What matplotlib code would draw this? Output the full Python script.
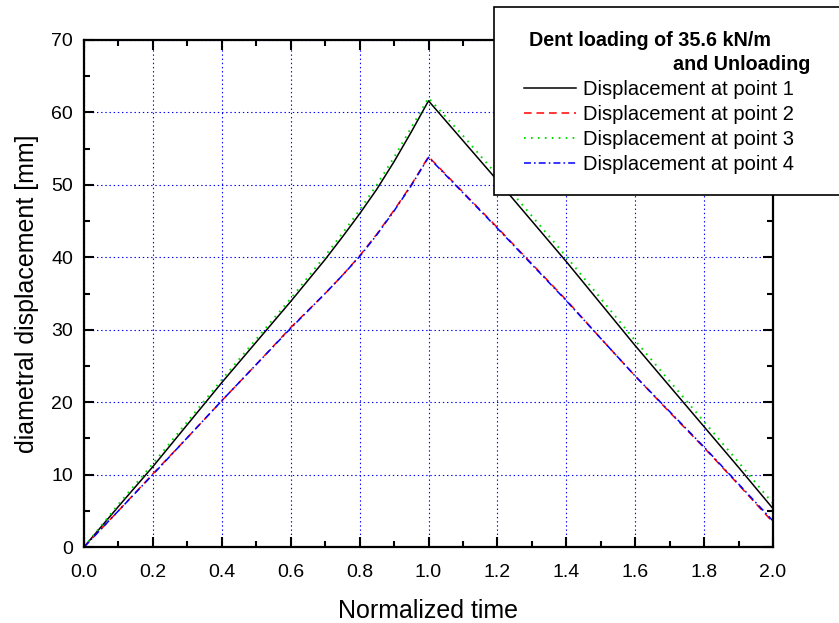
import matplotlib
matplotlib.use('Agg')
import matplotlib.pyplot as plt
from matplotlib.patches import Rectangle
from matplotlib.ticker import MultipleLocator

plt.rcParams['font.family'] = ['Liberation Sans', 'DejaVu Sans']
plt.rcParams['lines.scale_dashes'] = False

# normalized time and displacements [mm]
time = [0.0, 0.1, 0.2, 0.3, 0.4, 0.5, 0.6, 0.7, 0.75, 0.8, 0.85, 0.9, 0.95, 1.0,
        1.1, 1.2, 1.3, 1.4, 1.5, 1.6, 1.7, 1.8, 1.9, 2.0]
point1 = [0.0, 5.6, 11.1, 16.9, 22.7, 28.3, 33.9, 39.7, 42.8, 46.0, 49.4, 53.2, 57.3, 61.6,
          56.1, 50.6, 45.0, 39.4, 33.6, 27.8, 22.2, 16.6, 11.0, 5.3]
point2 = [0.0, 5.0, 10.1, 15.1, 20.2, 25.2, 30.3, 35.0, 37.5, 40.2, 43.2, 46.5, 50.0, 53.9,
          49.0, 44.1, 39.1, 34.1, 28.8, 23.6, 18.6, 13.7, 8.6, 3.4]
point3 = [0.0, 5.9, 11.5, 17.3, 23.1, 28.7, 34.3, 40.2, 43.3, 46.5, 50.0, 53.8, 57.9, 62.0,
          56.8, 51.3, 45.7, 40.1, 34.3, 28.5, 22.9, 17.3, 11.7, 6.0]
point4 = [0.0, 5.0, 10.0, 15.1, 20.2, 25.2, 30.2, 35.0, 37.5, 40.1, 43.1, 46.4, 49.9, 53.8,
          48.9, 44.0, 39.0, 34.0, 28.8, 23.6, 18.7, 13.8, 8.7, 3.6]
labels = ['Displacement at point 1', 'Displacement at point 2',
          'Displacement at point 3', 'Displacement at point 4']

W, H = 839, 623
fig = plt.figure(figsize=(W / 100, H / 100), dpi=100)
ax = fig.add_axes([84 / W, 1 - 547 / H, (773 - 84) / W, (547 - 40) / H])

ax.plot(time, point1, color='black', linestyle='-', linewidth=1.1, label=labels[0])
ax.plot(time, point2, color='red', linestyle=(0, (5.5, 3.5)), linewidth=1.1, label=labels[1])
ax.plot(time, point3, color='#00dd00', linestyle=(0, (1.2, 3.8)), linewidth=1.4, label=labels[2])
ax.plot(time, point4, color='blue', linestyle=(0, (5, 2.2, 1.2, 2.2)), linewidth=1.1, label=labels[3])

ax.set_xlim(0, 2.0)
ax.set_ylim(0, 70)
ax.xaxis.set_major_locator(MultipleLocator(0.2))
ax.xaxis.set_minor_locator(MultipleLocator(0.1))
ax.yaxis.set_major_locator(MultipleLocator(10))
ax.yaxis.set_minor_locator(MultipleLocator(5))
ax.xaxis.set_major_formatter(matplotlib.ticker.FormatStrFormatter('%.1f'))

ax.grid(True, which='major', color='blue', linestyle=(0, (1, 2)), linewidth=0.8)
ax.set_axisbelow(True)
for s in ax.spines.values():
    s.set_linewidth(1.6)
ax.tick_params(which='both', direction='in', top=True, right=True, width=1.5,
               labelsize=14)
ax.tick_params(axis='x', which='both', pad=12)
ax.tick_params(axis='y', which='both', pad=8)
ax.tick_params(which='major', length=7.5)
ax.tick_params(which='minor', length=4.3)

ax.set_xlabel('Normalized time', fontsize=18, labelpad=13)
ax.set_ylabel('diametral displacement [mm]', fontsize=18, labelpad=9)

# legend box sticking out of the right edge
fig.patches.append(Rectangle((494 / W, 1 - 195 / H), 360 / W, 188 / H,
                             transform=fig.transFigure, facecolor='white',
                             edgecolor='black', linewidth=1.2, zorder=5))
fig.text(529 / W, 1 - 40 / H, 'Dent loading of 35.6 kN/m', fontsize=14.2,
         fontweight='bold', ha='left', va='center', zorder=6)
fig.text(810 / W, 1 - 64 / H, 'and Unloading', fontsize=14.2,
         fontweight='bold', ha='right', va='center', zorder=6)
leg = fig.legend(loc='upper left', bbox_to_anchor=(524 / W, 1 - 80 / H),
                 frameon=False, fontsize=14.5, handlelength=2.6,
                 handletextpad=0.35, labelspacing=0.3, borderpad=0,
                 borderaxespad=0)
leg.set_zorder(7)

fig.savefig('out.png', dpi=100)
